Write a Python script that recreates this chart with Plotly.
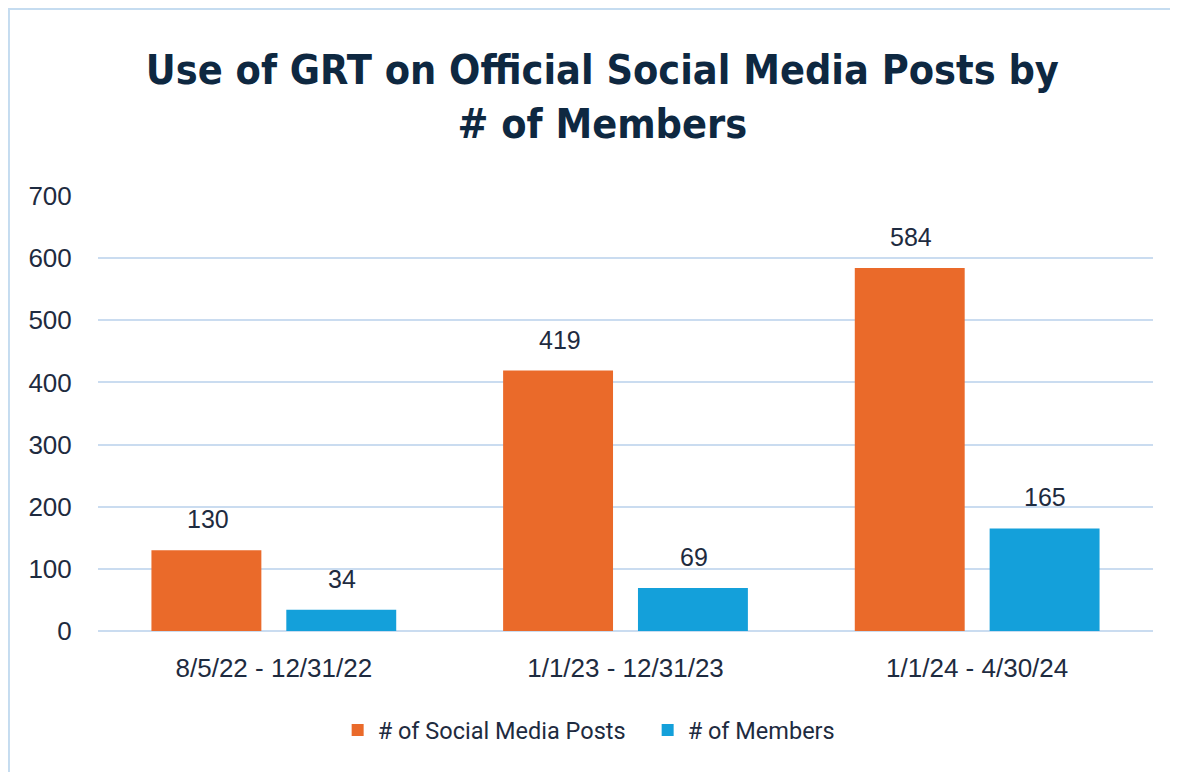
import plotly.graph_objects as go

periods = ["8/5/22 - 12/31/22", "1/1/23 - 12/31/23", "1/1/24 - 4/30/24"]
posts = [130, 419, 584]
members = [34, 69, 165]
series_names = ["# of Social Media Posts", "# of Members"]

TEXT = "#1E2B40"
GRID = "#CADCF0"
ORANGE = "#EA6A2A"
BLUE = "#14A0DA"

fig = go.Figure()
fig.add_trace(go.Bar(x=periods, y=posts, name=series_names[0],
                     marker=dict(color=ORANGE, line=dict(width=0))))
fig.add_trace(go.Bar(x=periods, y=members, name=series_names[1],
                     marker=dict(color=BLUE, line=dict(width=0))))

# data labels sit a bit above the bars, like the original
for vals, shift in [(posts, -66), (members, 68)]:
    for p, v in zip(periods, vals):
        fig.add_annotation(x=p, y=v, text=str(v), showarrow=False,
                           xshift=shift, yanchor="bottom", yshift=15,
                           font=dict(family="Liberation Sans, Arial", size=25, color=TEXT))

# light blue frame (left + top edges visible)
fig.add_shape(type="rect", xref="paper", yref="paper",
              x0=-0.0844, x1=1.2, y0=-0.6, y1=1.430,
              line=dict(color="#C5DCF0", width=2), layer="below")

# page body has an 8px margin, so the figure is 8px smaller than the window
fig.update_layout(
    width=1170, height=764,
    margin=dict(l=90, r=25, t=188, b=141),
    paper_bgcolor="white", plot_bgcolor="white",
    barmode="group", bargap=0.233, bargroupgap=0.185,
    title=dict(text="Use of GRT on Official Social Media Posts by<br># of Members",
               x=0.508, xanchor="center", yref="container", y=0.900, yanchor="middle",
               font=dict(family="DejaVu Sans Condensed", size=41,
                         color="#0E2841", weight="bold")),
    legend=dict(orientation="h", x=0.521, xanchor="center", y=-0.228, yanchor="middle",
                font=dict(family="Roboto, Noto Sans", size=23.5, color=TEXT),
                entrywidth=265, traceorder="normal"),
    showlegend=True,
)
fig.update_xaxes(showline=False, showgrid=False, ticks="outside", ticklen=14,
                 tickcolor="rgba(0,0,0,0)",
                 tickfont=dict(family="Liberation Sans, Arial", size=26, color=TEXT))
fig.update_yaxes(range=[0, 700], dtick=100, showgrid=True, gridcolor=GRID, gridwidth=1.5,
                 zeroline=True, zerolinecolor=GRID, zerolinewidth=1.5,
                 ticks="outside", ticklen=20, tickcolor="rgba(0,0,0,0)",
                 tickfont=dict(family="Liberation Sans, Arial", size=26, color=TEXT))

fig.write_html("out.html")
